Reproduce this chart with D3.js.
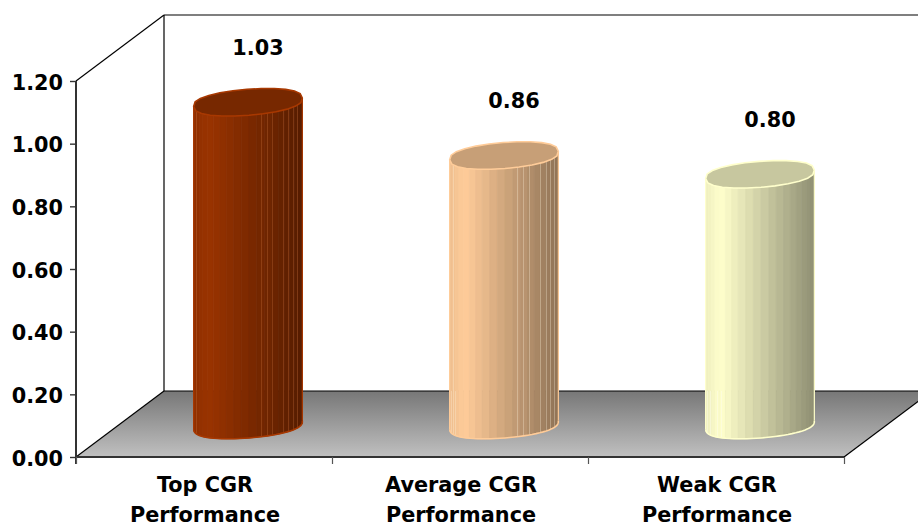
<!DOCTYPE html>
<html>
<head>
<meta charset="utf-8">
<script src="https://cdn.jsdelivr.net/npm/d3@7"></script>
<style>
  html, body { margin: 0; padding: 0; background: #fff; }
  svg { display: block; }
  text { font-family: "DejaVu Sans", Verdana, sans-serif; font-weight: bold; fill: #000; }
</style>
</head>
<body>
<svg id="chart" width="918" height="524"></svg>
<script>
// CGR performance groups and their values
const categoryLines = [["Top CGR", "Performance"], ["Average CGR", "Performance"], ["Weak CGR", "Performance"]];
const values = [1.03, 0.86, 0.80];
const barColors = ["#993300", "#ffcc99", "#ffffcc"];
const edgeColors = ["#a83800", "#ffcc99", "#ffffcc"];
const seamColors = ["#c8703c", "#fff3dc", "#ffffff"];
const yTicks = [0, 0.2, 0.4, 0.6, 0.8, 1.0, 1.2];

const svg = d3.select("#chart");
const fontSize = 20.8;

// Front plane of the 3D box, plus the depth offset of the back wall
const plot = { left: 76, right: 844, bottom: 457, top: 81 };
const depth = { dx: 88, dy: -66 };
const x = d3.scaleBand().domain(d3.range(values.length)).range([plot.left, plot.right]);
const y = d3.scaleLinear().domain([0, 1.2]).range([plot.bottom, plot.top]);

// Floor with its vertical shading
const defs = svg.append("defs");
const floorGrad = defs.append("linearGradient")
  .attr("id", "floorShade").attr("x1", 0).attr("y1", 0).attr("x2", 0).attr("y2", 1);
floorGrad.append("stop").attr("offset", "0%").attr("stop-color", "#777777");
floorGrad.append("stop").attr("offset", "100%").attr("stop-color", "#c0c0c0");

const backY = plot.bottom + depth.dy;
const backLeft = plot.left + depth.dx;
const backRight = plot.right + depth.dx;
const line = d3.line();

svg.append("path")
  .attr("d", line([[plot.left, plot.bottom], [backLeft, backY], [backRight, backY], [plot.right, plot.bottom]]) + "Z")
  .attr("fill", "url(#floorShade)");

// Wall and floor outlines
const wallLines = [
  [[plot.left, plot.top], [backLeft, plot.top + depth.dy]],
  [[backLeft, plot.top + depth.dy], [backRight, plot.top + depth.dy]],
  [[backLeft, plot.top + depth.dy], [backLeft, backY]],
  [[backLeft, backY], [backRight, backY]],
  [[plot.left, plot.bottom], [backLeft, backY]],
  [[plot.right, plot.bottom], [backRight, backY]]
];
svg.append("g").selectAll("path").data(wallLines).join("path")
  .attr("d", d => line(d))
  .attr("fill", "none").attr("stroke", "#000").attr("stroke-width", 1.2);

// Cylinders: a tilted, slightly full ellipse swept upward, faceted into vertical strips
const radius = 54.5, minor = 13, tilt = -4.5 * Math.PI / 180, fullness = 0.78;
const baseY = plot.bottom - 32;
const stripCount = 22;

// Facet seams per cylinder: those running the full height, and those only on
// the part standing over the floor
const fullSeams = [[3, 68, 74, 79, 90, 95, 100, 104], [4, 68, 74, 80, 91, 97, 101, 105], []];
const floorSeams = [[], [2, 6], [2, 5, 12, 16]];

function ellipsePoint(cx, cy, t) {
  const s = Math.sin(t);
  const ex = radius * Math.cos(t), ey = minor * Math.sign(s) * Math.pow(Math.abs(s), fullness);
  return [cx + ex * Math.cos(tilt) - ey * Math.sin(tilt),
          cy + ex * Math.sin(tilt) + ey * Math.cos(tilt)];
}
function shade(color, k) {
  const c = d3.rgb(color);
  return d3.rgb(c.r * k, c.g * k, c.b * k).formatHex();
}
// Side brightness peaks just right of the left edge and falls toward the right
function sideShade(f) {
  return f < 0.14 ? 0.93 + 0.07 * f / 0.14 : 1 - 0.44 * (f - 0.14) / 0.86;
}
// Angle on the front half of the ellipse for an offset from the left edge
function seamAngle(offset) {
  return Math.acos(Math.max(-1, Math.min(1, (offset - radius) / radius)));
}

const bars = svg.append("g").selectAll("g").data(values).join("g");
bars.each(function (v, i) {
  const g = d3.select(this);
  const cx = x(i) + x.bandwidth() / 2 + depth.dx / 2;
  const topY = baseY - (y(0) - y(v));

  // Side strips, sampled along the front half of the ellipse
  const ts = d3.range(stripCount + 1).map(k => Math.PI - Math.PI * k / stripCount);
  const stripFill = ([a, b]) => {
    const mid = (ellipsePoint(cx, 0, a)[0] + ellipsePoint(cx, 0, b)[0]) / 2;
    return shade(barColors[i], sideShade((mid - cx + radius) / (2 * radius)));
  };
  g.append("g").selectAll("path").data(d3.pairs(ts)).join("path")
    .attr("d", ([a, b]) => line([
      ellipsePoint(cx, topY, a), ellipsePoint(cx, topY, b),
      ellipsePoint(cx, baseY, b), ellipsePoint(cx, baseY, a)]) + "Z")
    .attr("fill", stripFill)
    .attr("stroke", stripFill)
    .attr("stroke-width", 0.8);

  // Light facet seams on the side
  const seams = [
    ...fullSeams[i].map(d => ({ d, y1: ellipsePoint(cx, topY, seamAngle(d))[1], y2: ellipsePoint(cx, baseY, seamAngle(d))[1] })),
    ...floorSeams[i].map(d => ({ d, y1: backY, y2: ellipsePoint(cx, baseY, seamAngle(d))[1] }))
  ];
  g.append("g").selectAll("line").data(seams).join("line")
    .attr("x1", s => cx - radius + s.d).attr("x2", s => cx - radius + s.d)
    .attr("y1", s => s.y1).attr("y2", s => s.y2)
    .attr("stroke", seamColors[i])
    .attr("stroke-opacity", 0.4)
    .attr("stroke-width", 0.8);

  // Lower rim and side edges
  const rim = d3.range(0, 37).map(k => ellipsePoint(cx, baseY, Math.PI - Math.PI * k / 36));
  g.append("path").attr("d", line(rim)).attr("fill", "none")
    .attr("stroke", edgeColors[i]).attr("stroke-width", 1.6);
  [Math.PI, 0].forEach(t => {
    g.append("path")
      .attr("d", line([ellipsePoint(cx, topY, t), ellipsePoint(cx, baseY, t)]))
      .attr("stroke", edgeColors[i]).attr("stroke-width", 1.2);
  });

  // Top cap drawn as a coarse polygon
  const cap = d3.range(0, 24).map(k => ellipsePoint(cx, topY, 2 * Math.PI * k / 24));
  g.append("path").attr("d", line(cap) + "Z")
    .attr("fill", shade(barColors[i], 0.78))
    .attr("stroke", edgeColors[i]).attr("stroke-width", 1.6);

  // Value label floating above the cylinder
  g.append("text")
    .attr("x", cx + 10).attr("y", y(v) - 79.5)
    .attr("text-anchor", "middle").attr("font-size", fontSize)
    .text(d3.format(".2f")(v));
});

// Value axis
const yAxis = svg.append("g").attr("transform", `translate(${plot.left},0)`)
  .call(d3.axisLeft(y).tickValues(yTicks).tickSize(6).tickPadding(7).tickFormat(d3.format(".2f")));
yAxis.attr("font-family", null).attr("font-size", null);
yAxis.select(".domain").attr("stroke", "#333").attr("stroke-width", 2).attr("d", `M0,${plot.top}V${plot.bottom + 7}`);
yAxis.selectAll(".tick line").attr("stroke", "#333").attr("stroke-width", 1.4);
yAxis.selectAll("text").attr("font-size", fontSize).attr("dy", "0.39em");

// Category axis with ticks on the band boundaries
const boundary = d3.scaleLinear().domain([0, values.length]).range([plot.left, plot.right]);
const xAxis = svg.append("g").attr("transform", `translate(0,${plot.bottom})`)
  .call(d3.axisBottom(boundary).ticks(values.length).tickSize(7).tickFormat(""));
xAxis.select(".domain").attr("stroke", "#333").attr("stroke-width", 2).attr("d", `M${plot.left},0H${plot.right}`);
xAxis.selectAll(".tick line").attr("stroke", "#555").attr("stroke-width", 1.2);

// Two-line category labels
const labels = svg.append("g").selectAll("text").data(categoryLines).join("text")
  .attr("text-anchor", "middle").attr("font-size", fontSize);
labels.selectAll("tspan").data((d, i) => d.map(s => ({ s, i }))).join("tspan")
  .attr("x", d => x(d.i) + x.bandwidth() / 2 + 1)
  .attr("y", (d, k) => plot.bottom + 35 + k * 30)
  .text(d => d.s);
</script>
</body>
</html>
